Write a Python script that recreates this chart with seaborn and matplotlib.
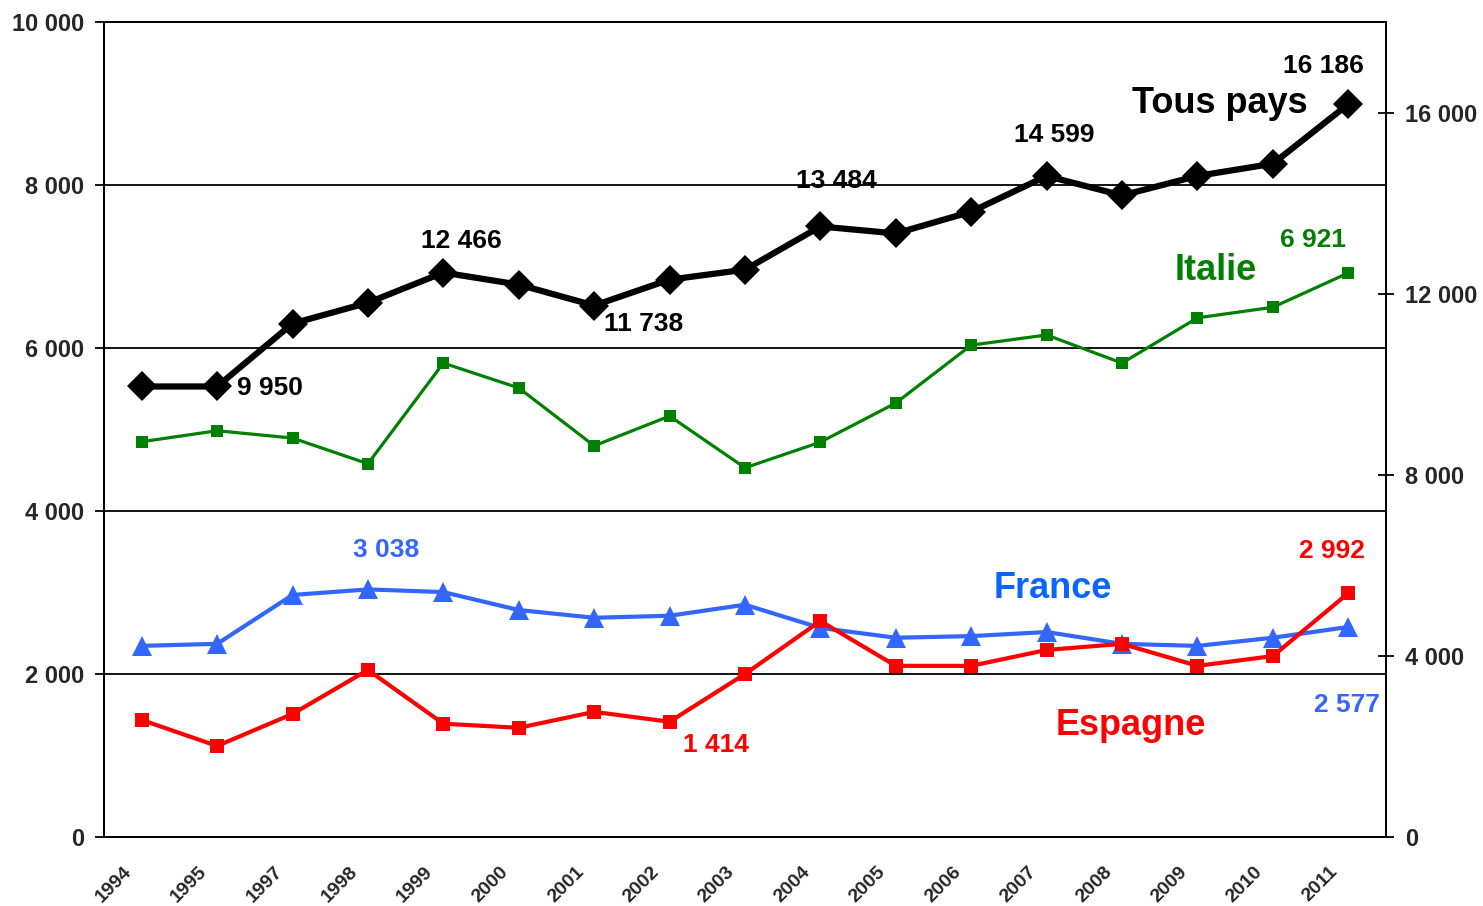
import numpy as np
import pandas as pd
import matplotlib
matplotlib.use("Agg")
import matplotlib.pyplot as plt
import seaborn as sns
from matplotlib.ticker import FixedLocator, FuncFormatter

years = ["1994", "1995", "1997", "1998", "1999", "2000", "2001", "2002", "2003",
         "2004", "2005", "2006", "2007", "2008", "2009", "2010", "2011"]
tous_pays = [9950, 9950, 11340, 11800, 12466, 12200, 11738, 12310, 12530,
             13484, 13330, 13810, 14599, 14170, 14600, 14870, 16186]
italie = [4850, 4985, 4895, 4580, 5815, 5510, 4800, 5165, 4530,
          4845, 5325, 6035, 6160, 5815, 6370, 6500, 6921]
france = [2345, 2370, 2970, 3038, 3005, 2785, 2690, 2715, 2850,
          2565, 2445, 2465, 2515, 2370, 2345, 2445, 2577]
espagne = [1436, 1117, 1510, 2050, 1390, 1340, 1535, 1414, 2000,
           2650, 2100, 2100, 2295, 2370, 2100, 2220, 2992]
left_ticks = [0, 2000, 4000, 6000, 8000, 10000]
right_ticks = [0, 4000, 8000, 12000, 16000]

sns.set_style("white")
plt.rcParams['font.family'] = ['Liberation Sans', 'DejaVu Sans']
plt.rcParams['font.weight'] = 'bold'

BLACK = "#000000"
GREEN = "#008000"
BLUE = "#3366FF"
BLUE_T = "#0A64FF"
RED = "#FF0000"

fig = plt.figure(figsize=(14.83, 9.06), dpi=100)
ax = fig.add_axes([104 / 1483, 69 / 906, 1282 / 1483, 815 / 906])
ax2 = ax.twinx()

pos = np.arange(len(years))
df = pd.DataFrame({"pos": pos, "year": years, "tous": tous_pays, "italie": italie,
                   "france": france, "espagne": espagne})

sns.lineplot(data=df, x="pos", y="italie", ax=ax, color=GREEN, lw=2.3,
             marker="s", markersize=8, markeredgewidth=0, zorder=3)
sns.lineplot(data=df, x="pos", y="france", ax=ax, color=BLUE, lw=3.0,
             marker="^", markersize=15, markeredgewidth=0, zorder=4)
sns.lineplot(data=df, x="pos", y="espagne", ax=ax, color=RED, lw=3.0,
             marker="s", markersize=10.5, markeredgewidth=0, zorder=5)
sns.lineplot(data=df, x="pos", y="tous", ax=ax2, color=BLACK, lw=4.5,
             marker="D", markersize=15, markeredgewidth=0, zorder=5)

ax.set_xlim(-0.5, len(years) - 0.5)
ax.set_ylim(0, 10000)
ax2.set_ylim(0, 18000)

fmt = FuncFormatter(lambda v, p: f"{int(v):,}".replace(",", " "))
ax.yaxis.set_major_locator(FixedLocator(left_ticks))
ax.yaxis.set_major_formatter(fmt)
ax2.yaxis.set_major_locator(FixedLocator(right_ticks))
ax2.yaxis.set_major_formatter(fmt)

# category labels anchored slightly left of each category centre (Excel-style)
ax.set_xticks(pos - 0.25)
ax.set_xticklabels(years, rotation=45, ha="right", rotation_mode="anchor",
                   fontsize=14, fontweight="bold")
ax.set_xticks(np.arange(-0.5, len(years)), minor=True)
ax.tick_params(axis="x", which="major", length=0, pad=19)
ax.tick_params(axis="x", which="minor", length=6, width=1.3, direction="out", color="black")
ax.tick_params(axis="y", which="major", length=6.5, width=1.3, direction="out",
               pad=8, labelsize=17, color="black")
ax2.tick_params(axis="y", which="major", length=12, width=1.3, direction="inout",
                pad=8, labelsize=17, color="black")
for lab in ax.get_yticklabels() + ax2.get_yticklabels():
    lab.set_fontweight("bold")

ax.set_xlabel("")
ax.set_ylabel("")
ax2.set_ylabel("")

for a in (ax, ax2):
    for s in a.spines.values():
        s.set_color("black")
        s.set_linewidth(1.3)
        s.set_visible(True)

for t in left_ticks[1:-1]:
    ax.axhline(t, color="black", lw=1.3, zorder=1)

# data labels
def lab(a, i, vals, text, dx, dy, color, ha="center"):
    a.annotate(text, xy=(pos[i], vals[i]), xytext=(dx, dy), textcoords="offset pixels",
               ha=ha, va="center", fontsize=19, fontweight="bold", color=color, zorder=10)

lab(ax2, 1, tous_pays, "9 950", 20, -2, BLACK, ha="left")
lab(ax2, 4, tous_pays, "12 466", 18, 32, BLACK)
lab(ax2, 6, tous_pays, "11 738", 10, -18, BLACK, ha="left")
lab(ax2, 9, tous_pays, "13 484", 16, 45, BLACK)
lab(ax2, 12, tous_pays, "14 599", 8, 41, BLACK)
lab(ax2, 16, tous_pays, "16 186", -25, 38, BLACK)
lab(ax, 16, italie, "6 921", -35, 33, GREEN)
lab(ax, 3, france, "3 038", 18, 39, BLUE)
lab(ax, 16, espagne, "2 992", -16, 42, RED)
lab(ax, 16, france, "2 577", -1, -78, BLUE)
lab(ax, 7, espagne, "1 414", 46, -23, RED)

# series names
def name(text, x, y, color):
    ax2.text(x, y, text, transform=ax.transAxes, ha="center", va="center",
             fontsize=26, fontweight="bold", color=color, zorder=10)

name("Tous pays", 0.8705, 0.8994, BLACK)
name("Italie", 0.8674, 0.6945, GREEN)
name("France", 0.7403, 0.3043, BLUE_T)
name("Espagne", 0.8011, 0.1362, RED)

fig.savefig("out.png", dpi=100, facecolor="white")
